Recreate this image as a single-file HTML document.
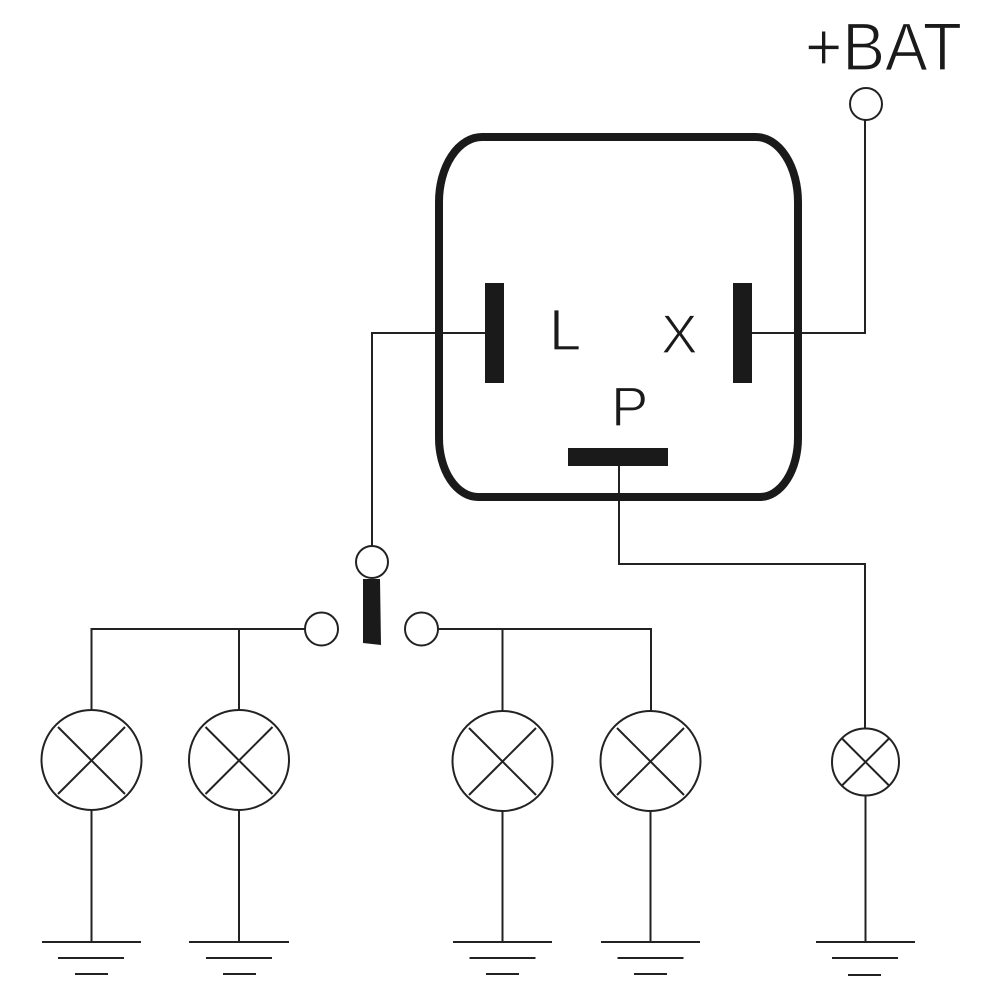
<!DOCTYPE html>
<html>
<head>
<meta charset="utf-8">
<style>
  html, body { margin: 0; padding: 0; background: #ffffff; }
  svg { display: block; }
  text { font-family: "Liberation Sans", "DejaVu Sans", sans-serif; fill: #1a1a1a; stroke: #ffffff; stroke-width: 1.3; paint-order: normal; }
</style>
</head>
<body>
<svg width="1004" height="1004" viewBox="0 0 1004 1004" xmlns="http://www.w3.org/2000/svg">
  <rect x="0" y="0" width="1004" height="1004" fill="#ffffff"/>

  <!-- +BAT label -->
  <text x="805" y="70" font-size="68" textLength="157" lengthAdjust="spacingAndGlyphs">+BAT</text>

  <g fill="none" stroke="#222" stroke-width="2">
    <!-- BAT terminal circle -->
    <circle cx="866" cy="104" r="16" fill="#fff"/>
    <!-- X wire to BAT -->
    <polyline points="752,333 865,333 865,120"/>
    <!-- L wire to switch -->
    <polyline points="486,333 372,333 372,546"/>
    <!-- P wire to lamp 5 -->
    <polyline points="619,466 619,564 865,564 865,728"/>

    <!-- switch circles -->
    <circle cx="372" cy="562" r="16" fill="#fff"/>
    <circle cx="321.5" cy="629" r="16.5" fill="#fff"/>
    <circle cx="421.5" cy="629" r="16.5" fill="#fff"/>

    <!-- left branch -->
    <polyline points="305,629 91.5,629 91.5,710"/>
    <line x1="239" y1="629" x2="239" y2="710"/>
    <!-- right branch -->
    <polyline points="438,629 651,629 651,711"/>
    <line x1="502.5" y1="629" x2="502.5" y2="711"/>

    <!-- lamp 1 -->
    <circle cx="91.5" cy="760" r="50"/>
    <line x1="58" y1="727" x2="125" y2="794"/>
    <line x1="125" y1="727" x2="58" y2="794"/>
    <line x1="91.5" y1="810" x2="91.5" y2="942"/>
    <line x1="42" y1="942" x2="141" y2="942"/>
    <line x1="58" y1="958" x2="124" y2="958"/>
    <line x1="75" y1="974" x2="108" y2="974"/>

    <!-- lamp 2 -->
    <circle cx="239" cy="760" r="50"/>
    <line x1="205.5" y1="727" x2="272.5" y2="794"/>
    <line x1="272.5" y1="727" x2="205.5" y2="794"/>
    <line x1="239" y1="810" x2="239" y2="942"/>
    <line x1="189" y1="942" x2="289" y2="942"/>
    <line x1="206" y1="958" x2="272" y2="958"/>
    <line x1="223" y1="974" x2="256" y2="974"/>

    <!-- lamp 3 -->
    <circle cx="502.5" cy="761" r="50"/>
    <line x1="469" y1="728" x2="536" y2="795"/>
    <line x1="536" y1="728" x2="469" y2="795"/>
    <line x1="502.5" y1="811" x2="502.5" y2="942"/>
    <line x1="453" y1="942" x2="552" y2="942"/>
    <line x1="469.5" y1="958" x2="535.5" y2="958"/>
    <line x1="486" y1="974" x2="519" y2="974"/>

    <!-- lamp 4 -->
    <circle cx="650.5" cy="761" r="50"/>
    <line x1="617" y1="728" x2="684" y2="795"/>
    <line x1="684" y1="728" x2="617" y2="795"/>
    <line x1="650.5" y1="811" x2="650.5" y2="942"/>
    <line x1="601" y1="942" x2="700" y2="942"/>
    <line x1="617.5" y1="958" x2="683.5" y2="958"/>
    <line x1="634" y1="974" x2="667" y2="974"/>

    <!-- lamp 5 -->
    <circle cx="865.5" cy="762" r="33.5"/>
    <line x1="842" y1="738.5" x2="889" y2="785.5"/>
    <line x1="889" y1="738.5" x2="842" y2="785.5"/>
    <line x1="865.5" y1="795.5" x2="865.5" y2="942"/>
    <line x1="816" y1="942" x2="915" y2="942"/>
    <line x1="832" y1="958" x2="898" y2="958"/>
    <line x1="848" y1="975" x2="881" y2="975"/>
  </g>

  <!-- relay body -->
  <path d="M 482 137 L 756 137 A 42 65 0 0 1 798 202 L 798 438 A 38 59 0 0 1 760 497 L 478 497 A 39 59 0 0 1 439 438 L 439 202 A 43 65 0 0 1 482 137 Z"
        fill="none" stroke="#1a1a1a" stroke-width="8"/>

  <!-- pins -->
  <rect x="485" y="283" width="19" height="100" fill="#1a1a1a"/>
  <rect x="733" y="283" width="19" height="100" fill="#1a1a1a"/>
  <rect x="568" y="448" width="100" height="18" fill="#1a1a1a"/>

  <!-- switch bar -->
  <polygon points="363,579 380,579 381,645 363,643" fill="#1a1a1a"/>

  <!-- pin labels -->
  <text x="549" y="350" font-size="58">L</text>
  <text x="661" y="353" font-size="55">X</text>
  <text x="611" y="426" font-size="56">P</text>
</svg>
</body>
</html>
